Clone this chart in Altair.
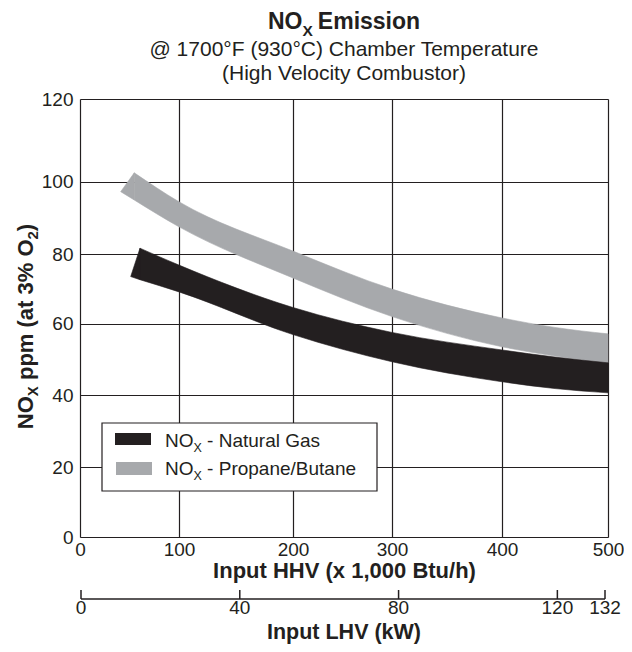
import altair as alt
import pandas as pd

# ---------------- data ----------------
X_TICKS = [0, 100, 200, 300, 400, 500]          # Input HHV (x 1,000 Btu/h)
Y_TICKS = [0, 20, 40, 60, 80, 100, 120]         # NOx ppm
LHV_TICKS = [0, 40, 80, 120, 132]               # Input LHV (kW)

# Natural gas band (black)
GAS_CAP_X = [51.2, 60.6]
GAS_CAP_TOP = [73.5, 81.6]
GAS_CAP_BOTTOM = [73.5, 72.6]
GAS_X = [60.6, 100, 200, 300, 400, 450, 500]
GAS_TOP = [81.6, 76.8, 64.6, 57.5, 52.6, 50.6, 49.0]
GAS_BOTTOM = [72.6, 69.1, 56.9, 49.3, 43.7, 41.8, 40.6]

# Propane / butane band (gray)
LPG_CAP_X = [41.1, 54.8]
LPG_CAP_TOP = [97.2, 102.1]
LPG_CAP_BOTTOM = [97.2, 94.9]
LPG_X = [54.8, 100, 200, 300, 400, 450, 500]
LPG_TOP = [102.1, 94.4, 80.8, 69.9, 61.6, 58.9, 57.1]
LPG_BOTTOM = [94.9, 87.5, 73.1, 62.0, 53.5, 50.9, 49.0]

INK = "#231f20"
GRAY = "#a7a9ac"
FONT = "Liberation Sans"

W, H = 528, 438

# Arial/Helvetica advance widths (1/1000 em) for text layout
W_REG = {" ": 278, "N": 722, "O": 778, "X": 667, "-": 333, "a": 556, "t": 278, "u": 556,
         "r": 333, "l": 222, "G": 778, "s": 500, "P": 667, "o": 556, "p": 556, "n": 556,
         "e": 556, "/": 278, "B": 667}
W_BOLD = {" ": 278, "N": 722, "O": 778, "X": 667, "E": 667, "m": 889, "i": 278, "s": 556,
          "o": 611, "n": 611, "p": 611, "(": 333, "a": 556, "t": 333, "3": 556, "%": 889,
          "2": 556, ")": 333}


def tw(s, size, bold):
    table = W_BOLD if bold else W_REG
    return sum(table.get(c, 556) for c in s) / 1000.0 * size


ONE = pd.DataFrame({"k": [0]})


def piece(text, x, y, size, bold=False, angle=0, align="left", baseline="alphabetic"):
    return alt.Chart(ONE).mark_text(
        text=text, fontSize=size, fontWeight="bold" if bold else "normal",
        angle=angle, align=align, baseline=baseline, color=INK, font=FONT
    ).encode(x=alt.value(x), y=alt.value(y))


# ---------------- scales / axes ----------------
x_scale = alt.Scale(domain=X_TICKS, range=[0, 99, 213, 312, 422, 528], nice=False, zero=False)
y_scale = alt.Scale(domain=Y_TICKS, range=[438, 368, 296, 224.5, 155, 82.5, 0], nice=False, zero=False)

x_axis = alt.Axis(values=X_TICKS, title="Input HHV (x 1,000 Btu/h)", ticks=False, domain=False,
                  labelFontSize=19, labelPadding=3, labelFlush=False, labelColor=INK, format="d",
                  titleFontSize=22, titleFontWeight="bold", titleColor=INK, titleY=40,
                  titleBaseline="alphabetic", grid=True, gridColor=INK, gridWidth=1.2, gridOpacity=1)
y_axis = alt.Axis(values=Y_TICKS, title=None, ticks=False, domain=False, labelFontSize=19,
                  labelPadding=7, labelColor=INK, format="d",
                  grid=True, gridColor=INK, gridWidth=1.2, gridOpacity=1)


def band(xs, tops, bottoms, color, interp):
    df = pd.DataFrame({"hhv": xs, "top": tops, "bottom": bottoms})
    return alt.Chart(df).mark_area(color=color, interpolate=interp, stroke=color, strokeWidth=0.6).encode(
        x=alt.X("hhv:Q", scale=x_scale, axis=x_axis),
        y=alt.Y("top:Q", scale=y_scale, axis=y_axis),
        y2="bottom:Q",
    )


lpg_body = band(LPG_X, LPG_TOP, LPG_BOTTOM, GRAY, "monotone")
lpg_cap = band(LPG_CAP_X, LPG_CAP_TOP, LPG_CAP_BOTTOM, GRAY, "linear")
gas_body = band(GAS_X, GAS_TOP, GAS_BOTTOM, INK, "monotone")
gas_cap = band(GAS_CAP_X, GAS_CAP_TOP, GAS_CAP_BOTTOM, INK, "linear")

# ---------------- legend ----------------
legend_box = alt.Chart(ONE).mark_rect(fill="white", stroke=INK, strokeWidth=1.2).encode(
    x=alt.value(22), x2=alt.value(297), y=alt.value(324), y2=alt.value(392))
sw1 = alt.Chart(ONE).mark_rect(color=INK).encode(
    x=alt.value(35), x2=alt.value(71), y=alt.value(334), y2=alt.value(346))
sw2 = alt.Chart(ONE).mark_rect(color=GRAY).encode(
    x=alt.value(36), x2=alt.value(72), y=alt.value(363), y2=alt.value(376))

LEG_FS, LEG_SUB = 19, 12.5
legend_text = []
for label, base in [("- Natural Gas", 347.5), ("- Propane/Butane", 375.5)]:
    x0 = 85
    legend_text.append(piece("NO", x0, base, LEG_FS))
    x1 = x0 + tw("NO", LEG_FS, False)
    legend_text.append(piece("X", x1, base + 5, LEG_SUB))
    x2 = x1 + tw("X", LEG_SUB, False) + tw(" ", LEG_FS, False)
    legend_text.append(piece(label, x2, base, LEG_FS))

# ---------------- titles ----------------
T_FS, T_SUB = 23, 15.5
t_gap = tw(" ", T_FS, True) * 0.8
t_total = tw("NO", T_FS, True) + tw("X", T_SUB, True) + t_gap + tw("Emission", T_FS, True)
tx0 = W / 2 - t_total / 2
tx1 = tx0 + tw("NO", T_FS, True)
tx2 = tx1 + tw("X", T_SUB, True) + t_gap
title_parts = [
    piece("NO", tx0, -70, T_FS, bold=True),
    piece("X", tx1, -63.5, T_SUB, bold=True),
    piece("Emission", tx2, -70, T_FS, bold=True),
    piece("@ 1700°F (930°C) Chamber Temperature", W / 2, -43, 21, align="center"),
    piece("(High Velocity Combustor)", W / 2, -19, 21, align="center"),
]

# rotated y-axis title (reads bottom to top)
Y_FS, Y_SUB = 22, 15
ybase_x = -47
segs = [("NO", Y_FS, 0, 0), ("X", Y_SUB, 5, 0), ("ppm (at 3% O", Y_FS, 0, tw(" ", Y_FS, True)),
        ("2", Y_SUB, 5, 0), (")", Y_FS, 0, 0)]
ylen = sum(tw(s, f, True) + g for s, f, _, g in segs)
ypos = 227.5 + ylen / 2
ytitle = []
for s, f, dx, g in segs:
    ypos -= g
    ytitle.append(piece(s, ybase_x + dx, ypos, f, bold=True, angle=270))
    ypos -= tw(s, f, True)

main = alt.layer(lpg_body, lpg_cap, gas_body, gas_cap, legend_box, sw1, sw2,
                 *legend_text, *title_parts, *ytitle)

# ---------------- secondary LHV axis ----------------
lhv_scale = alt.Scale(domain=[0, 132], range=[1, 525], nice=False, zero=False)
lhv_df = pd.DataFrame({"kw": LHV_TICKS})
lhv_line = alt.Chart(pd.DataFrame({"a": [LHV_TICKS[0]], "b": [LHV_TICKS[-1]]})).mark_rule(
    color=INK, strokeWidth=1.5).encode(
    x=alt.X("a:Q", scale=lhv_scale, axis=None), x2="b:Q", y=alt.value(500))
lhv_ticks = alt.Chart(lhv_df).mark_rule(color=INK, strokeWidth=1.5).encode(
    x=alt.X("kw:Q", scale=lhv_scale, axis=None), y=alt.value(491), y2=alt.value(500))
lhv_labels = alt.Chart(lhv_df).mark_text(fontSize=19, align="center", baseline="alphabetic",
                                         color=INK, font=FONT).encode(
    x=alt.X("kw:Q", scale=lhv_scale, axis=None), y=alt.value(515), text="kw:Q")
lhv_title = piece("Input LHV (kW)", W / 2, 540, 21.5, bold=True, align="center")

lhv = alt.layer(lhv_line, lhv_ticks, lhv_labels, lhv_title)

chart = alt.layer(main, lhv).resolve_scale(x="independent").properties(
    width=W, height=H,
    autosize=alt.AutoSizeParams(type="none"),
    padding={"left": 72, "top": 91, "right": 16, "bottom": 107},
).configure_view(stroke=INK, strokeWidth=2.5).configure(font=FONT)

chart.save("out.html", embed_options={"renderer": "svg", "actions": False})
